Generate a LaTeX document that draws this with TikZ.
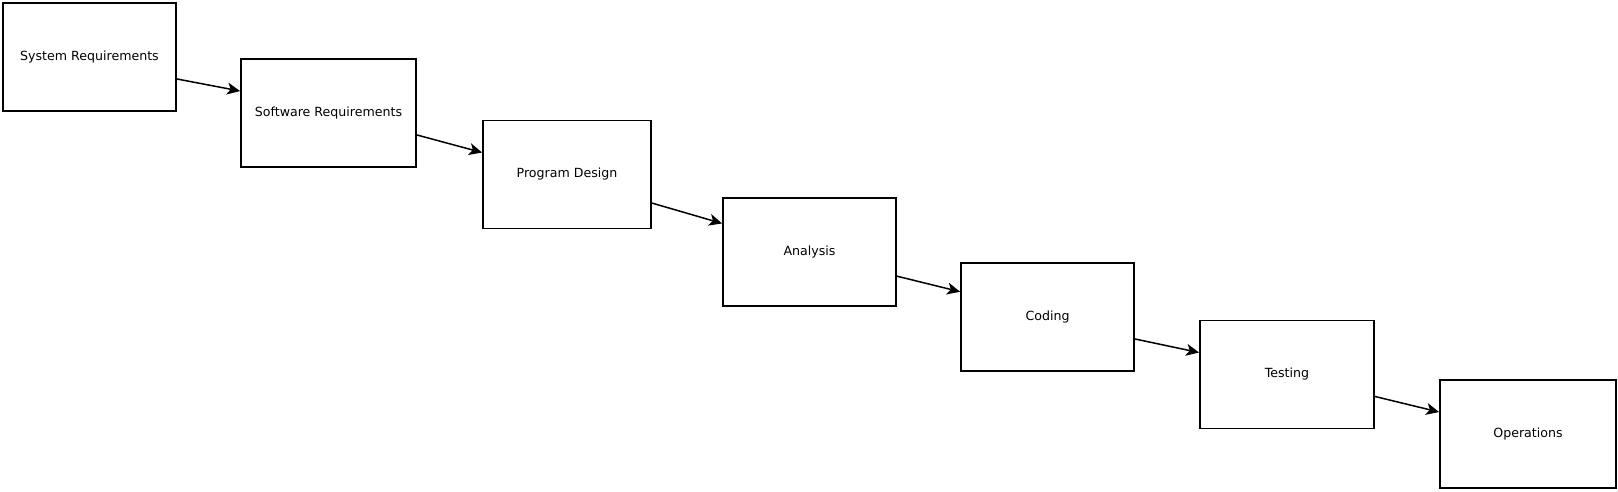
\documentclass[tikz,border=0pt]{standalone}
\usepackage{fontspec}
\setmainfont{DejaVu Sans}
\usetikzlibrary{calc,arrows.meta}
\tikzset{
  stage/.style={draw, line width=1.8pt, inner sep=0pt, minimum height=108pt,
    font=\fontsize{12.6}{15}\selectfont},
  flow/.style={line width=1.5pt, -{Stealth[length=13pt,width=12pt,inset=3.5pt]}}
}
\begin{document}
\begin{tikzpicture}[x=1pt,y=-1pt]
\useasboundingbox (0,0) rectangle (1618,491);

\node[stage, minimum width=173pt] (sysreq) at (89.5,57) {System Requirements};
\node[stage, minimum width=175pt] (swreq) at (328.5,113) {Software Requirements};
\node[stage, minimum width=168pt] (design) at (567,174.5) {Program Design};
\node[stage, minimum width=173pt] (analysis) at (809.5,252) {Analysis};
\node[stage, minimum width=173pt] (coding) at (1047.5,317) {Coding};
\node[stage, minimum width=174pt] (testing) at (1287,374.5) {Testing};
\node[stage, minimum width=176pt] (ops) at (1528,434) {Operations};

% stage to stage
\foreach \a/\b/\s/\t in {sysreq/swreq/0.7/0.3,swreq/design/0.7/0.3,design/analysis/0.76/0.24,
  analysis/coding/0.72/0.27,coding/testing/0.7/0.3,testing/ops/0.7/0.3}
{
    \draw[flow] ($(\a.north east)!\s!(\a.south east)$)--($(\b.north west)!\t!(\b.south west)$);
}

\end{tikzpicture}
\end{document}
